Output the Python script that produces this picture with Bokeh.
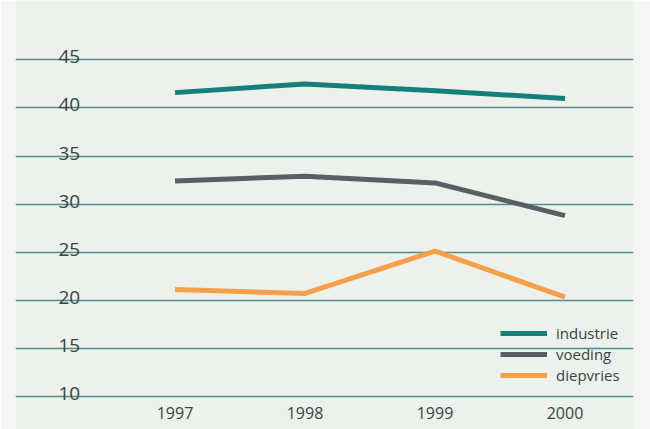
from bokeh.plotting import figure
from bokeh.models import Range1d, FixedTicker, Legend, LegendItem
from bokeh.core.properties import value
from bokeh.embed import file_html
from bokeh.resources import INLINE

years = [1997, 1998, 1999, 2000]
industrie = [41.6, 42.5, 41.8, 41.0]
voeding = [32.4, 32.9, 32.2, 28.8]
diepvries = [21.1, 20.7, 25.1, 20.3]
y_ticks = [10, 15, 20, 25, 30, 35, 40, 45]
x_labels = ["1997", "1998", "1999", "2000"]

BG = "#edf1ec"
GRID = "#4f8e8c"
TXT = "#394343"
FONT = "Open Sans"

p = figure(width=650, height=429, output_backend="svg", toolbar_location=None,
           x_range=Range1d(1995.773, 2000.527), y_range=Range1d(6.53, 51.19),
           min_border_left=15, min_border_right=17, min_border_top=0, min_border_bottom=0)
p.background_fill_color = BG
p.border_fill_color = "#f3f6f2"
p.outline_line_color = None
p.xaxis.visible = False
p.yaxis.visible = False
p.xgrid.grid_line_color = None
p.ygrid.ticker = FixedTicker(ticks=y_ticks)
p.ygrid.grid_line_color = GRID
p.ygrid.grid_line_width = 1.6

# y tick labels (above gridlines, right aligned)
ylab_x = 1996.27
p.text(x=[ylab_x] * len(y_ticks), y=y_ticks, text=[str(t) for t in y_ticks],
       text_align="right", text_baseline="alphabetic", y_offset=-3,
       text_font=value(FONT), text_font_size="19px", text_color=TXT)

# x labels
xlab_y = 8.2
p.text(x=years, y=[xlab_y] * len(years), text=x_labels,
       text_align="center", text_baseline="middle",
       text_font=value(FONT), text_font_size="16px", text_color=TXT)

r1 = p.line(years, industrie, line_color="#15807b", line_width=5, line_join="round")
r2 = p.line(years, voeding, line_color="#595f62", line_width=5, line_join="round")
r3 = p.line(years, diepvries, line_color="#f6a04a", line_width=5, line_join="round")

legend = Legend(items=[LegendItem(label="industrie", renderers=[r1]),
                       LegendItem(label="voeding", renderers=[r2]),
                       LegendItem(label="diepvries", renderers=[r3])],
                location=(485, 44), glyph_width=47, glyph_height=20, label_height=20,
                spacing=1, padding=0, margin=0, label_standoff=9,
                border_line_color=None, background_fill_alpha=0,
                label_text_font=FONT, label_text_font_size="15px", label_text_color=TXT)
p.add_layout(legend)

open("out.html", "w").write(file_html(p, INLINE))
